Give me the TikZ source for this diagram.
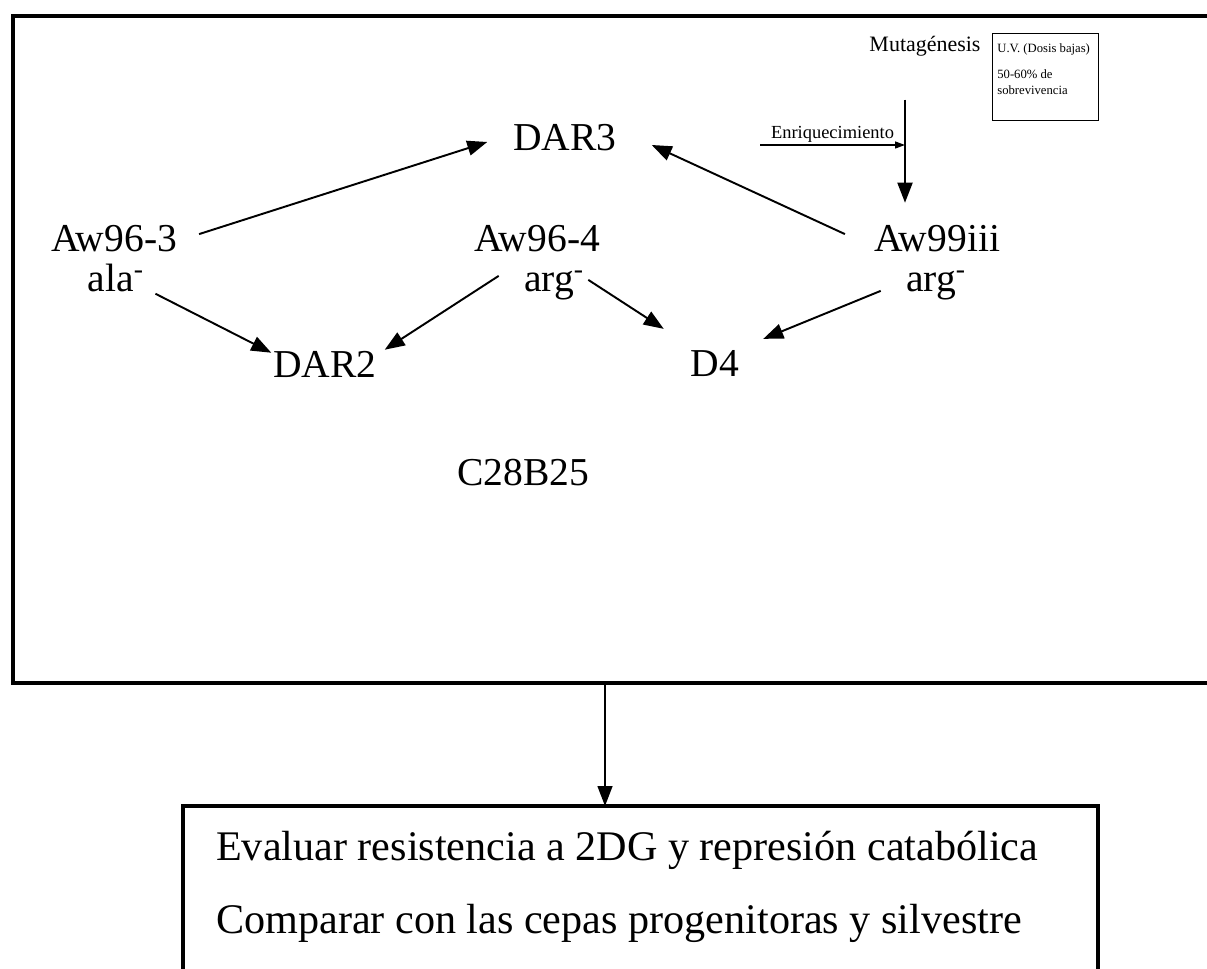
\documentclass[tikz,border=0pt]{standalone}
\usepackage{fontspec}
\setmainfont{Liberation Serif}
\usepackage{tikz}
\usetikzlibrary{positioning}
\usetikzlibrary{arrows.meta}
\tikzset{strain/.style={font=\fontsize{22.5}{26}\selectfont, inner sep=1pt},
         frame/.style={draw, line width=2.6pt},
         arr/.style={-{Triangle[length=0.4cm,width=0.3cm]}, line width=1.1pt}}

\begin{document}
\begin{tikzpicture}
    \useasboundingbox (0,0) rectangle (24.14,-19.38);

    % boxes
    \draw[frame] (0.26,-0.32) rectangle (24.6,-13.66);
    \draw[frame] (3.66,-16.12) rectangle (21.96,-20.2);
    \node[draw, line width=0.8pt, anchor=north west, minimum width=2.12cm, minimum height=1.74cm] at (19.84,-0.66) (uv){};
    \node[anchor=north west, font=\fontsize{7.2}{9}\selectfont, inner sep=0pt] at ([xshift=0.1cm,yshift=-0.2cm]uv.north west) (dosis){U.V. (Dosis bajas)};
    \node[anchor=north west, align=left, font=\fontsize{7.2}{9}\selectfont, inner sep=0pt] at ([yshift=-0.28cm]dosis.south west) (surv){50-60\% de\\sobrevivencia};

    \node[font=\fontsize{12.5}{14}\selectfont] at (18.5,-0.92) (mut){Mutagénesis};

    \node[strain] at (11.3,-2.76) (dar3){DAR3};
    \node[strain, anchor=base] at (2.28,-5.04) (aw963){Aw96-3};
    \node[strain, anchor=base, inner sep=0pt] at ([xshift=0.04cm,yshift=-0.8cm]aw963.base) (ala){ala\textsuperscript{-}};
    \node[strain, anchor=base] at (10.74,-5.04) (aw964){Aw96-4};
    \node[strain, anchor=base, inner sep=0pt] at ([xshift=0.34cm,yshift=-0.8cm]aw964.base) (arg4){arg\textsuperscript{-}};
    \node[strain, anchor=base] at (18.74,-5.04) (aw99){Aw99iii};
    \node[strain, anchor=base, inner sep=0pt] at ([xshift=-0.02cm,yshift=-0.8cm]aw99.base) (arg99){arg\textsuperscript{-}};
    \node[strain, anchor=base] at (6.5,-7.56) (dar2){DAR2};
    \node[strain, anchor=base] at (14.3,-7.54) (d4){D4};
    \node[strain] at (10.46,-9.46) (c28){C28B25};

    \node[anchor=west, font=\fontsize{24}{28}\selectfont] at (4.2,-17.0) (evaluar){Evaluar resistencia a 2DG y represión catabólica};
    \node[anchor=west, font=\fontsize{24}{28}\selectfont] at (4.2,-18.46) (comparar){Comparar con las cepas progenitoras y silvestre};

    \coordinate (mtop) at ([yshift=-0.75cm]mut.south -| 18.1,0);
    \coordinate (mbot) at ([yshift=0.42cm]aw99.north -| 18.1,0);
    \coordinate (enr) at (15.2,-2.9);
    \coordinate (drop) at (12.1,-13.66);
    \coordinate (land) at (12.1,-16.12);

    \draw[arr] ([xshift=0.4cm,yshift=0.1cm]aw963.east) -- ([xshift=-0.48cm,yshift=-0.08cm]dar3.west);
    \draw[arr] ([xshift=-0.54cm,yshift=0.1cm]aw99.west) -- ([xshift=0.66cm,yshift=-0.14cm]dar3.east);
    \draw[arr] ([xshift=0.22cm,yshift=-0.02cm]ala.south east) -- ([yshift=-0.06cm]dar2.north west);
    \draw[arr] ([xshift=-0.5cm,yshift=0.2cm]arg4.west) -- ([xshift=0.12cm]dar2.north east);
    \draw[arr] ([xshift=0.08cm,yshift=0.12cm]arg4.east) -- ([xshift=-0.5cm,yshift=0.4cm]d4.north west);
    \draw[arr] ([xshift=-0.5cm,yshift=-0.1cm]arg99.west) -- ([xshift=0.44cm,yshift=0.2cm]d4.north east);
    \draw[arr] (mtop) -- (mbot);
    \draw[-{Triangle[length=0.2cm,width=0.14cm]}, line width=0.7pt] (enr) -- node[above, font=\fontsize{10.5}{12}\selectfont, inner sep=1pt]{Enriquecimiento} (enr -| mtop);
    \draw[arr, line width=0.8pt] (drop) -- (land);
\end{tikzpicture}
\end{document}
